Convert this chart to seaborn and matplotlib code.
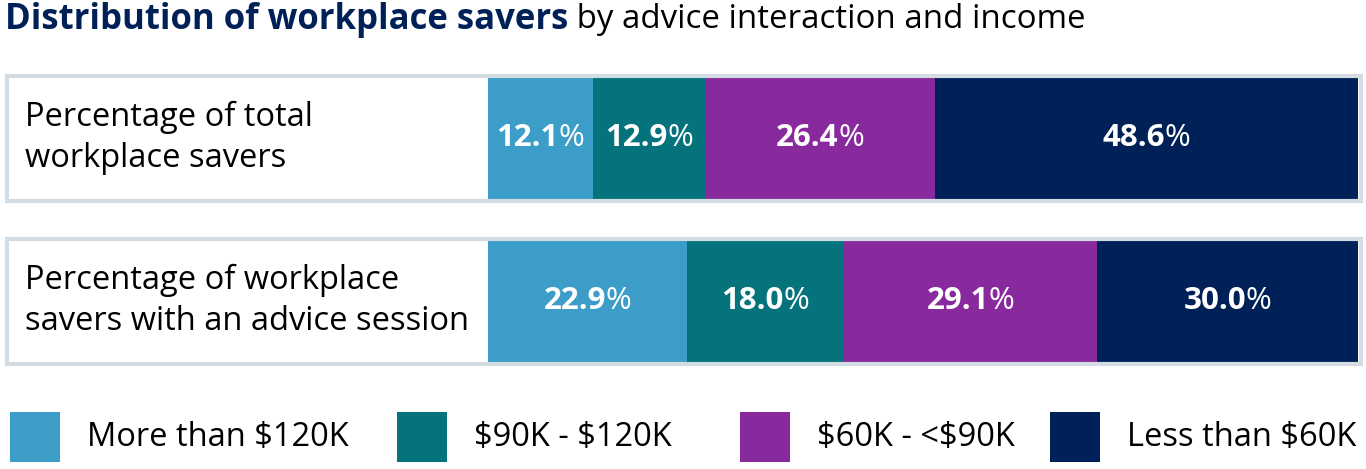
import pandas as pd
import matplotlib.pyplot as plt
import matplotlib.patches as mpatches
import seaborn as sns

rows = ['Percentage of total\nworkplace savers',
        'Percentage of workplace\nsavers with an advice session']
categories = ['More than $120K', '$90K - $120K', '$60K - <$90K', 'Less than $60K']
more_120k = [12.1, 22.9]
k90_120 = [12.9, 18.0]
k60_90 = [26.4, 29.1]
less_60k = [48.6, 30.0]
colors = ['#3b9dc8', '#04737b', '#88299e', '#002157']

df = pd.DataFrame({'row': rows,
                   categories[0]: more_120k,
                   categories[1]: k90_120,
                   categories[2]: k60_90,
                   categories[3]: less_60k})
cum = df[categories].cumsum(axis=1)

sns.set_theme(style='white')
plt.rcParams['font.family'] = ['Open Sans', 'DejaVu Sans']

W, H = 1366, 469
fig = plt.figure(figsize=(W / 100, H / 100), dpi=100)

# bar area in pixels: x 488..1358, y 77..362
ax = fig.add_axes([488 / W, (H - 362) / H, 870 / W, 285 / H])
for cat, col in reversed(list(zip(categories, colors))):
    sns.barplot(data=cum.assign(row=rows), x=cat, y='row', color=col,
                saturation=1, width=0.748, orient='h', ax=ax, linewidth=0)
ax.set_xlim(0, 100)
ax.set_ylim(1.374, -0.374)
ax.axis('off')

# outer frames
for top in [74, 237]:
    fig.patches.append(mpatches.Rectangle((6.5 / W, (H - top - 127) / H), 1354 / W, 125 / H,
                                          transform=fig.transFigure, fill=False,
                                          edgecolor='#d3dce2', linewidth=3, zorder=0))

# row labels
for i, r in enumerate(rows):
    yc = (H - (138 + 163 * i)) / H
    fig.text(25 / W, yc, r, fontsize=23.5, fontweight='medium', color='black',
             va='center', ha='left', linespacing=1.3)

fig.canvas.draw()
renderer = fig.canvas.get_renderer()

# segment labels: bold number + regular %
for i in range(len(rows)):
    start = 0
    for cat in categories:
        v = df.loc[i, cat]
        xc = start + v / 2
        start += v
        t1 = ax.text(0, 0, f'{v:.1f}', fontsize=22.5, fontweight='bold', color='white')
        t2 = ax.text(0, 0, '%', fontsize=22.5, color='white')
        w1 = t1.get_window_extent(renderer).width
        w2 = t2.get_window_extent(renderer).width
        px = ax.transData.transform((xc, i))
        left = px[0] - (w1 + w2) / 2
        t1.set_position(ax.transData.inverted().transform((left, px[1])))
        t1.set_va('center')
        t2.set_position(ax.transData.inverted().transform((left + w1, px[1])))
        t2.set_va('center')

# title
tb = fig.text(5 / W, (H - 20) / H, 'Distribution of workplace savers', fontsize=25,
              fontweight='bold', color='#002157', va='center', ha='left')
wb = tb.get_window_extent(renderer).width
fig.text((5 + wb) / W, (H - 20) / H, ' by advice interaction and income', fontsize=23.8,
         color='black', va='center', ha='left')

# legend
sq_x = [10, 397, 740, 1050]
for x, cat, col in zip(sq_x, categories, colors):
    fig.patches.append(mpatches.Rectangle((x / W, (H - 462) / H), 50 / W, 50 / H,
                                          transform=fig.transFigure, facecolor=col,
                                          edgecolor='none'))
    fig.text((x + 77) / W, (H - 437) / H, cat, fontsize=23.5, color='black',
             va='center', ha='left', parse_math=False)

fig.savefig('out.png', dpi=100)
